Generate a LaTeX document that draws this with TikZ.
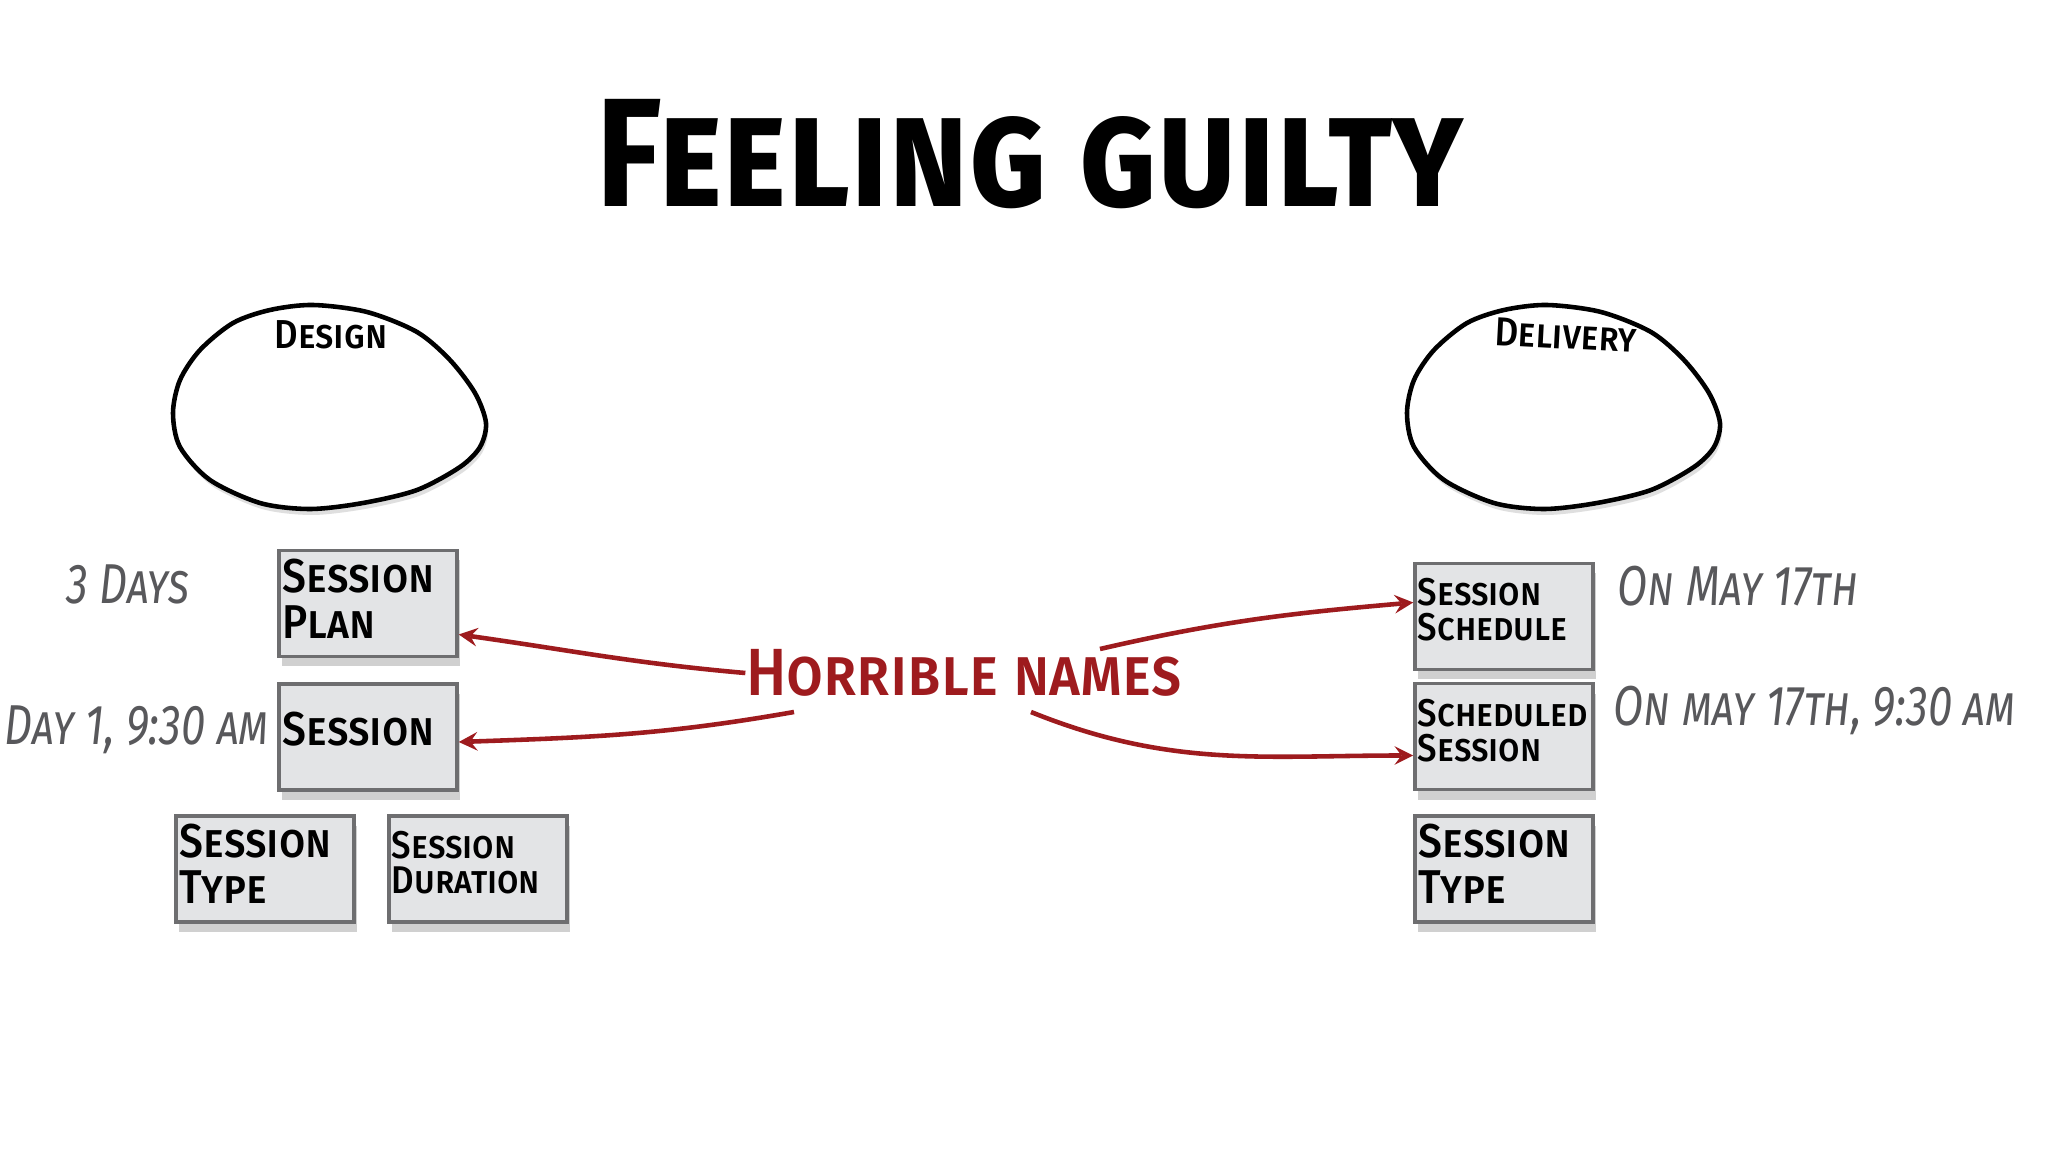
\documentclass[tikz,border=0pt]{standalone}
\usepackage{fontspec}
\setmainfont{Fira Sans}[FakeStretch = 0.9]
\newfontfamily\handfont{Fira Sans Medium}[FakeStretch = 0.9]
\newfontfamily\notefont{Fira Sans}[FakeStretch = 0.78]
\newfontfamily\titlefont{Fira Sans}[FakeStretch = 0.87]
\usetikzlibrary{positioning,shadows,arrows}
\definecolor{boxgray}{HTML}{E3E4E6}
\definecolor{edgegray}{HTML}{6E6E70}
\definecolor{notegray}{HTML}{58585B}
\definecolor{namered}{HTML}{9E1B1E}
\tikzset{
	sbox/.style = {draw = edgegray, line width = 1pt, fill = boxgray, minimum width = 1.78cm, minimum height = 1.06cm,
		drop shadow = {shadow xshift = 0.3mm, shadow yshift = -1mm, opacity = 0.3, fill = black!60}},
	bigtxt/.style = {font = \handfont\fontsize{13.5}{13}\selectfont\scshape, align = left, inner sep = 0pt, anchor = north west},
	smalltxt/.style = {font = \handfont\fontsize{11}{10}\selectfont\scshape, align = left, inner sep = 0pt, anchor = north west},
	note/.style = {font = \notefont\fontsize{16}{18}\selectfont\itshape\scshape, text = notegray, inner sep = 0pt},
	blob/.style = {line width = 1.3pt, fill = white, drop shadow = {shadow xshift = 0.2mm, shadow yshift = -0.6mm, opacity = 0.25, fill = black!50}},
	link/.style = {->, >=stealth, line width = 1.3pt, namered}
}
\begin{document}
\begin{tikzpicture}
	\useasboundingbox (0,0) rectangle (20.48,-11.52);
	\fill[white] (0,0) rectangle (20.48,-11.52);
	
	\node [font = \titlefont\fontsize{44}{44}\selectfont\bfseries\scshape, anchor = base] (title) at (10.30,-2.07) {Feeling guilty};
	
	\foreach \dx/\area/\tilt in {0/Design/0, 12.34/Delivery/-3} {
		\begin{scope}[xshift = \dx cm]
			\draw[blob] plot[smooth cycle, tension = 0.5] coordinates {(3.13,-3.05) (3.67,-3.12) (4.17,-3.32) (4.50,-3.60) (4.75,-3.93) (4.86,-4.23) (4.80,-4.47) (4.60,-4.67) (4.17,-4.90) (3.63,-5.03) (3.10,-5.09) (2.60,-5.03) (2.10,-4.80) (1.80,-4.47) (1.73,-4.13) (1.80,-3.80) (2.00,-3.50) (2.33,-3.23) (2.70,-3.10)};
			\node [font = \handfont\fontsize{11.5}{11}\selectfont\scshape, anchor = base, rotate = \tilt] at (3.31,-3.49) {\area};
		\end{scope}
	}
	
	\node [sbox] (plan) at (3.68,-6.035) {};
	\node [sbox] (sess) at (3.68,-7.37) {};
	\node [sbox] (typeL) at (2.65,-8.69) {};
	\node [sbox] (dur) at (4.78,-8.69) {};
	\node [sbox] (sched) at (15.04,-6.165) {};
	\node [sbox] (schsess) at (15.04,-7.365) {};
	\node [sbox] (typeR) at (15.04,-8.69) {};
	
	\node [bigtxt, below right = 0.10cm and 0.05cm of plan.north west] (plant) {Session\\Plan};
	\node [bigtxt, below right = 0.29cm and 0.05cm of sess.north west] (sesst) {Session};
	\node [bigtxt, below right = 0.09cm and 0.05cm of typeL.north west] (typeLt) {Session\\Type};
	\node [smalltxt, below right = 0.16cm and 0.04cm of dur.north west] (durt) {Session\\Duration};
	\node [smalltxt, below right = 0.16cm and 0.04cm of sched.north west] (schedt) {Session\\Schedule};
	\node [smalltxt, below right = 0.17cm and 0.04cm of schsess.north west] (schsesst) {Scheduled\\Session};
	\node [bigtxt, below right = 0.09cm and 0.05cm of typeR.north west] (typeRt) {Session\\Type};
	
	\node [note] (days) at (1.28,-5.84) {3 Days};
	\node [note, anchor = east] (day1) at (2.70,-7.30) {Day 1, 9:30 am};
	\node [note, anchor = west] (may) at (16.17,-5.86) {On May 17th};
	\node [note, anchor = west] (maytime) at (16.13,-7.10) {On may 17th, 9:30 am};
	
	\node [font = \handfont\fontsize{19}{19}\selectfont\scshape, text = namered, inner sep = 0pt] (hn) at (9.64,-6.73) {Horrible names};
	\coordinate (t2) at ([shift = {(-1.70,-0.39)}]hn.center);
	\coordinate (t3) at ([shift = {(1.36,0.24)}]hn.center);
	\coordinate (t4) at ([shift = {(0.67,-0.39)}]hn.center);
	
	\draw[link] (hn.west) to [out = 175, in = -8] ([yshift = -0.31cm]plan.east);
	\draw[link] (t2) to [out = 190, in = 2] ([yshift = -0.05cm]sess.east);
	\draw[link] (t3) to [out = 13, in = 185] ([yshift = 0.14cm]sched.west);
	\draw[link] (t4) to [out = -22, in = 180] ([yshift = -0.19cm]schsess.west);
\end{tikzpicture}
\end{document}
